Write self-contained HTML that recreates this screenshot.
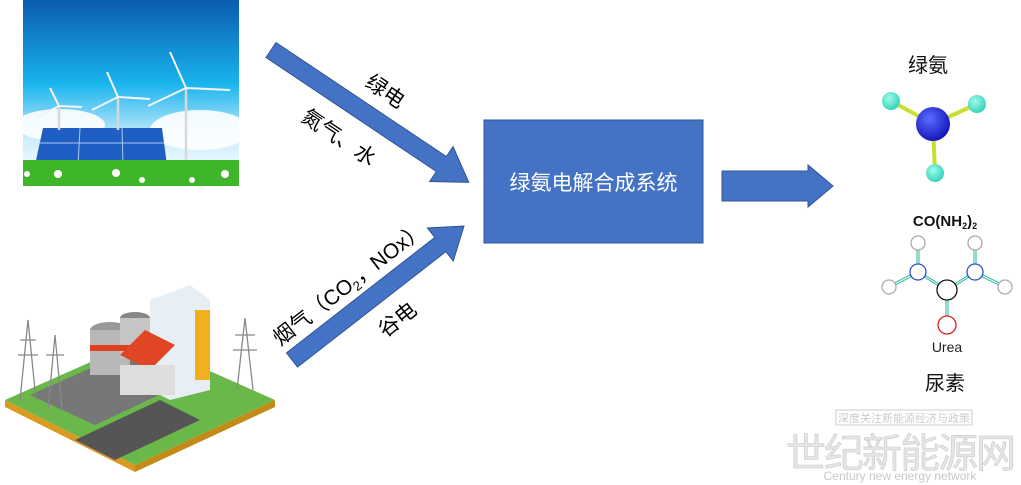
<!DOCTYPE html>
<html><head><meta charset="utf-8"><style>
html,body{margin:0;padding:0;background:#fff;width:1021px;height:485px;overflow:hidden}
svg text{font-family:"Liberation Sans","Noto Sans CJK SC",sans-serif}
</style></head><body>
<svg width="1021" height="485" viewBox="0 0 1021 485" xmlns="http://www.w3.org/2000/svg">
<defs>
<linearGradient id="sky" x1="0" y1="0" x2="0" y2="1">
<stop offset="0" stop-color="#0a5bb0"/><stop offset="0.45" stop-color="#19b4ee"/><stop offset="0.75" stop-color="#cfeefc"/><stop offset="1" stop-color="#ffffff"/></linearGradient>
<radialGradient id="nb" cx="0.4" cy="0.35" r="0.7"><stop offset="0" stop-color="#5a6cff"/><stop offset="1" stop-color="#1010b8"/></radialGradient>
<radialGradient id="hb" cx="0.4" cy="0.35" r="0.7"><stop offset="0" stop-color="#9ffbe8"/><stop offset="1" stop-color="#2fd0b8"/></radialGradient>
</defs>

<!-- solar/wind picture -->
<rect x="23" y="0" width="216" height="186" fill="url(#sky)"/>
<ellipse cx="60" cy="125" rx="45" ry="16" fill="#fff" opacity="0.9"/>
<ellipse cx="200" cy="130" rx="50" ry="20" fill="#fff" opacity="0.9"/>
<polygon points="43,128 162,128 167,165 35,165" fill="#1f5fc4"/>
<g stroke="#cfe4ff" stroke-width="1" opacity="0.8">
<line x1="80" y1="128" x2="78" y2="165"/><line x1="122" y1="128" x2="123" y2="165"/>
<line x1="40" y1="143" x2="165" y2="143"/></g>
<g stroke="#d8d8d8" stroke-width="2.5"><line x1="59" y1="106" x2="59" y2="130"/><line x1="118" y1="97" x2="118" y2="130"/><line x1="186" y1="88" x2="186" y2="175"/></g>
<g stroke="#f4f4f4" stroke-width="2">
<line x1="59" y1="106" x2="50" y2="88"/><line x1="59" y1="106" x2="40" y2="116"/><line x1="59" y1="106" x2="82" y2="107"/>
<line x1="118" y1="97" x2="107" y2="72"/><line x1="118" y1="97" x2="92" y2="110"/><line x1="118" y1="97" x2="150" y2="99"/>
<line x1="186" y1="88" x2="170" y2="52"/><line x1="186" y1="88" x2="148" y2="106"/><line x1="186" y1="88" x2="230" y2="90"/></g>
<rect x="23" y="160" width="216" height="26" fill="#3fb52a"/>
<g fill="#fff"><circle cx="58" cy="174" r="4"/><circle cx="116" cy="173" r="4"/><circle cx="142" cy="180" r="3"/><circle cx="192" cy="180" r="3"/><circle cx="225" cy="174" r="4"/><circle cx="27" cy="174" r="3"/></g>

<!-- industrial picture -->
<polygon points="5,400 140,340 275,400 135,465" fill="#6ab84a"/>
<polygon points="5,400 135,465 135,472 5,407" fill="#d89a20"/>
<polygon points="135,465 275,400 275,407 135,472" fill="#c48a18"/>
<polygon points="30,395 120,355 180,385 95,425" fill="#777"/>
<polygon points="75,440 160,400 200,420 115,460" fill="#555"/>
<ellipse cx="110" cy="330" rx="20" ry="8" fill="#999"/><rect x="90" y="330" width="40" height="45" fill="#b8b8b8"/>
<ellipse cx="135" cy="318" rx="15" ry="6" fill="#888"/><rect x="120" y="318" width="30" height="40" fill="#c5c5c5"/>
<rect x="90" y="345" width="40" height="6" fill="#e04020"/>
<polygon points="150,300 190,285 210,300 210,390 170,400 150,390" fill="#e8eef5"/>
<rect x="195" y="310" width="15" height="70" fill="#f0b020"/>
<polygon points="120,355 145,330 175,345 150,370" fill="#e04525"/>
<rect x="120" y="365" width="55" height="30" fill="#ddd"/>
<g stroke="#888" stroke-width="1.3" fill="none">
<path d="M28,320 L20,400 M28,320 L36,400 M20,340 L36,340 M18,355 L38,355"/>
<path d="M55,335 L48,410 M55,335 L62,410 M46,355 L64,355"/>
<path d="M245,318 L237,390 M245,318 L253,390 M235,335 L255,335 M233,350 L257,350"/></g>

<!-- arrow 1 -->
<g transform="translate(271,50) rotate(33.8)">
<polygon points="0,-9 205,-9 205,-21 238,0 205,21 205,9 0,9" fill="#4472c4" stroke="#2f5597" stroke-width="1"/>
<text x="118" y="-22" font-size="21" text-anchor="middle" fill="#000">绿电</text>
<text x="105" y="42" font-size="21" text-anchor="middle" fill="#000">氮气、水</text>
</g>
<!-- arrow 2 -->
<g transform="translate(292,360) rotate(-37.9)">
<polygon points="0,-9 188,-9 188,-21 218,0 188,21 188,9 0,9" fill="#4472c4" stroke="#2f5597" stroke-width="1"/>
<text x="92" y="-18" font-size="21" text-anchor="middle" fill="#000">烟气（CO<tspan font-size="13" dy="4">2</tspan><tspan dy="-4">，NOx）</tspan></text>
<text x="108" y="40" font-size="21" text-anchor="middle" fill="#000">谷电</text>
</g>

<!-- main box -->
<rect x="484" y="120" width="219" height="123" fill="#4472c4" stroke="#2f5597" stroke-width="1"/>
<text x="593.5" y="190" font-size="21" text-anchor="middle" fill="#fff">绿氨电解合成系统</text>

<!-- right arrow -->
<polygon points="722,171 808,171 808,165 833,186 808,207 808,201 722,201" fill="#4472c4" stroke="#2f5597" stroke-width="1"/>

<!-- ammonia -->
<text x="928" y="72" font-size="20" text-anchor="middle" fill="#111">绿氨</text>
<g stroke="#c8e030" stroke-width="4"><line x1="933" y1="124" x2="891" y2="101"/><line x1="933" y1="124" x2="977" y2="104"/><line x1="933" y1="124" x2="935" y2="173"/></g>
<circle cx="891" cy="101" r="9" fill="url(#hb)"/><circle cx="977" cy="104" r="9" fill="url(#hb)"/><circle cx="935" cy="173" r="9" fill="url(#hb)"/>
<circle cx="933" cy="124" r="17" fill="url(#nb)"/>

<!-- urea -->
<text x="945" y="226" font-size="15" font-weight="bold" text-anchor="middle" fill="#111" font-family="Liberation Mono, monospace">CO(NH<tspan font-size="9" dy="3">2</tspan><tspan dy="-3">)</tspan><tspan font-size="9" dy="3">2</tspan></text>
<g stroke="#2ab8a0" stroke-width="3">
<line x1="918" y1="243" x2="918" y2="272"/><line x1="975" y1="243" x2="975" y2="272"/>
<line x1="918" y1="272" x2="889" y2="287"/><line x1="975" y1="272" x2="1005" y2="287"/>
<line x1="918" y1="272" x2="947" y2="290"/><line x1="975" y1="272" x2="947" y2="290"/>
<line x1="947" y1="290" x2="947" y2="325"/></g>
<g stroke="#fff" stroke-width="1">
<line x1="918" y1="243" x2="918" y2="272"/><line x1="975" y1="243" x2="975" y2="272"/>
<line x1="918" y1="272" x2="889" y2="287"/><line x1="975" y1="272" x2="1005" y2="287"/>
<line x1="918" y1="272" x2="947" y2="290"/><line x1="975" y1="272" x2="947" y2="290"/>
<line x1="947" y1="290" x2="947" y2="325"/></g>
<g fill="#fff" stroke-width="1.3">
<circle cx="918" cy="243" r="7" stroke="#aaa"/><circle cx="975" cy="243" r="7" stroke="#aaa"/>
<circle cx="889" cy="287" r="7" stroke="#aaa"/><circle cx="1005" cy="287" r="7" stroke="#aaa"/>
<circle cx="918" cy="272" r="8" stroke="#3050c0"/><circle cx="975" cy="272" r="8" stroke="#3050c0"/>
<circle cx="947" cy="290" r="10" stroke="#111"/><circle cx="947" cy="325" r="9" stroke="#e02020"/></g>
<text x="947" y="352" font-size="14" text-anchor="middle" fill="#222" font-family="Liberation Mono, monospace">Urea</text>
<text x="945" y="390" font-size="20" text-anchor="middle" fill="#111">尿素</text>

<!-- watermark -->
<rect x="836" y="410" width="136" height="15" fill="none" stroke="#ccc"/>
<text x="904" y="422" font-size="11" text-anchor="middle" fill="#ccc">深度关注新能源经济与政策</text>
<text x="900" y="467" font-size="40" text-anchor="middle" fill="#e6e6e6" stroke="#c8c8c8" stroke-width="0.6" letter-spacing="-2">世纪新能源网</text>
<text x="900" y="480" font-size="12" text-anchor="middle" fill="#c8c8c8" font-family="Liberation Serif, serif">Century new energy network</text>
</svg>
</body></html>
